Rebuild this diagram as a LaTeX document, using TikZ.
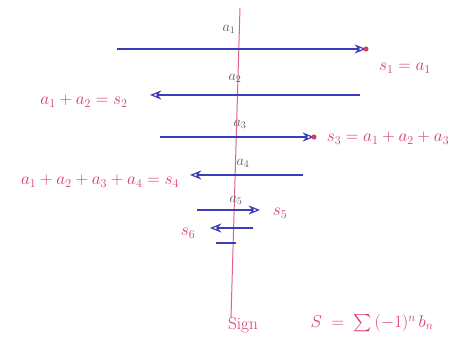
\documentclass[tikz,border=0pt]{standalone}
\usepackage{amsmath, amssymb}
\usepackage{xcolor}
\definecolor{pen}{RGB}{60,60,185}
\definecolor{ink}{RGB}{215,60,105}
\definecolor{pencil}{RGB}{85,85,115}
\usetikzlibrary{arrows.meta}

\begin{document}
\begin{tikzpicture}[
    x=1pt, y=-1pt,
    jump/.style={pen, line width=1.2pt, -{Stealth[length=4mm, width=3.2mm, open]}},
    axis/.style={ink!80, line width=1pt},
    sumlab/.style={text=ink, font=\LARGE},
    termlab/.style={text=pencil, font=\Large},
    tipdot/.style={circle, fill=ink, inner sep=1.8pt}
]
\useasboundingbox (0,0) rectangle (467,339);

% --- Axe vertical ---
\coordinate (top) at (240,8);
\coordinate (bot) at (231,318);
\draw[axis] (top) -- (bot);

% --- Extremites des sauts ---
\coordinate (j1s) at (117,49);  \coordinate (j1e) at (366,49);
\coordinate (j2s) at (360,95);  \coordinate (j2e) at (150,95);
\coordinate (j3s) at (160,137); \coordinate (j3e) at (314,137);
\coordinate (j4s) at (303,175); \coordinate (j4e) at (190,175);
\coordinate (j5s) at (197,210); \coordinate (j5e) at (260,210);
\coordinate (j6s) at (253,228); \coordinate (j6e) at (210,228);
\coordinate (j7s) at (216,243); \coordinate (j7e) at (236,243);

% --- Termes a_n ---
\node[termlab] (a1) at (229,29)  {$a_1$};
\node[termlab] (a2) at (235,78)  {$a_2$};
\node[termlab] (a3) at (240,124) {$a_3$};
\node[termlab] (a4) at (243,163) {$a_4$};
\node[termlab] (a5) at (236,200) {$a_5$};

% --- Sommes partielles ---
\node[sumlab] (s1) at (405,68)  {$s_1 = a_1$};
\node[sumlab] (s2) at (84,101)  {$a_1+a_2 = s_2$};
\node[sumlab] (s3) at (388,138) {$s_3 = a_1+a_2+a_3$};
\node[sumlab] (s4) at (100,181)  {$a_1+a_2+a_3+a_4 = s_4$};
\node[sumlab] (s5) at (280,213) {$s_5$};
\node[sumlab] (s6) at (188,233) {$s_6$};

% --- Sauts alternes ---
\draw[jump] (j1s) -- (j1e);
\draw[jump] (j2s) -- (j2e);
\draw[jump] (j3s) -- (j3e);
\draw[jump] (j4s) -- (j4e);
\draw[jump] (j5s) -- (j5e);
\draw[jump] (j6s) -- (j6e);
\draw[pen, line width=1.2pt] (j7s) -- (j7e);
\node[tipdot] (d1) at (j1e) {};
\node[tipdot] (d3) at (j3e) {};

% --- Formule ---
\node[sumlab] (sign) at (243,325) {Sign};
\node[sumlab] (sum) at (372,323) {$S \;=\; \sum\, (-1)^n\, b_n$};

\end{tikzpicture}
\end{document}
